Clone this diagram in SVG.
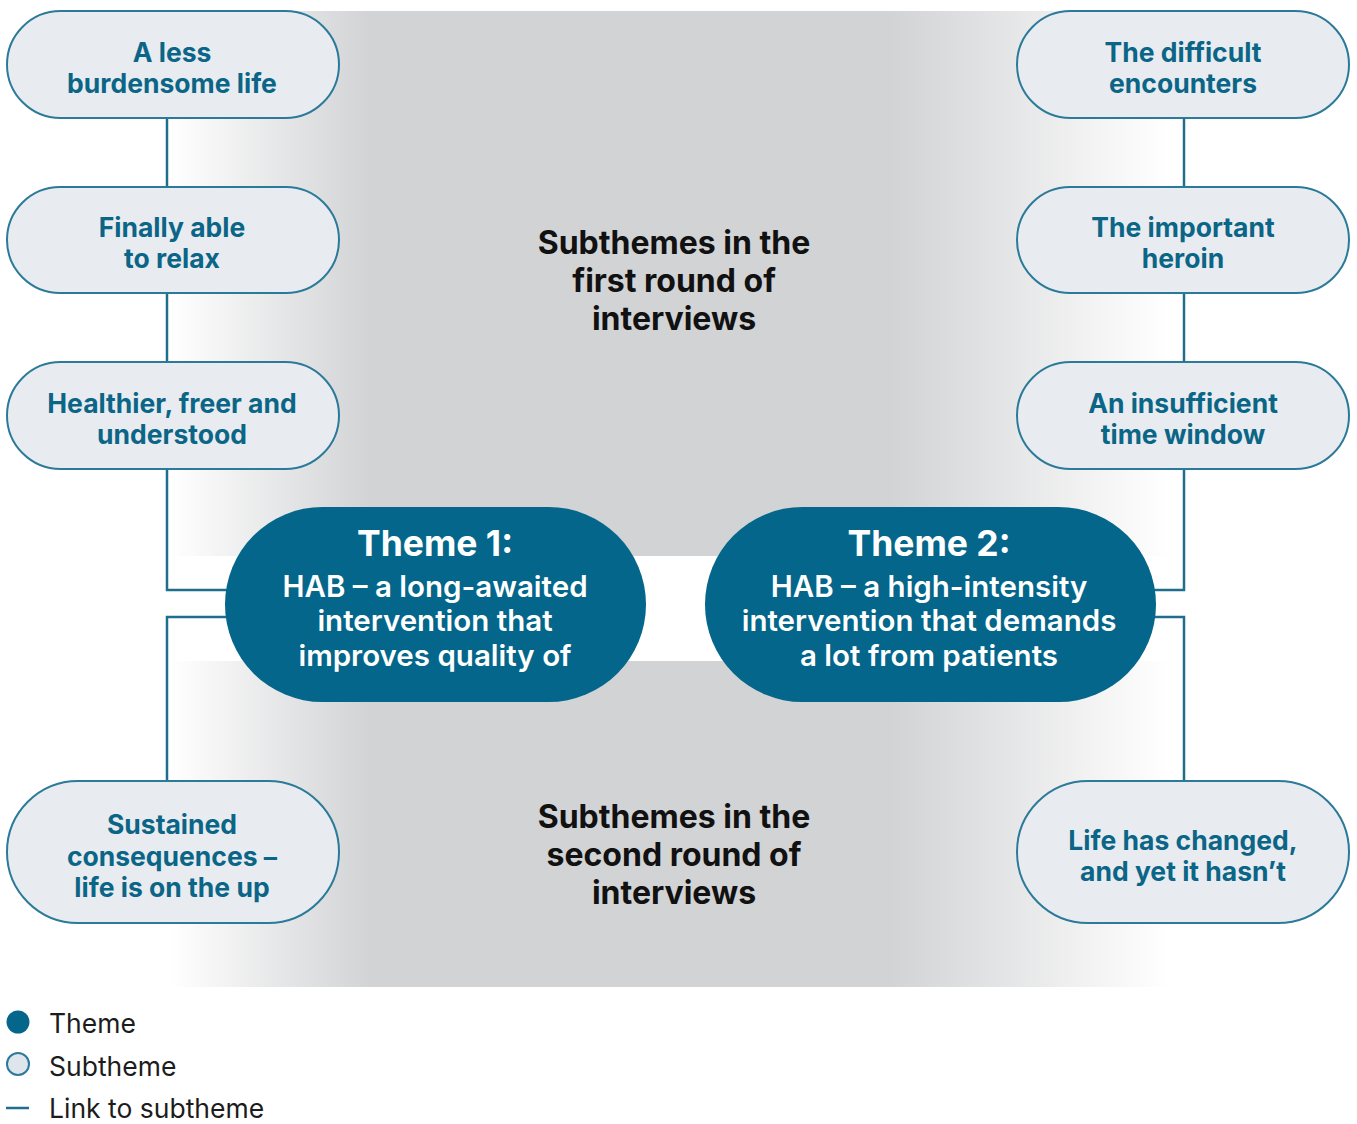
<svg xmlns="http://www.w3.org/2000/svg" width="1357" height="1124" viewBox="0 0 1357 1124">
  <style>
    .sub { fill: #e8ecf1; stroke: #2b7a99; stroke-width: 2; }
    .theme { fill: #03668a; }
    .subtxt { font-family: Inter, "Liberation Sans", sans-serif; font-weight: 700; font-size: 26.5px; fill: #0b6586; text-anchor: middle; }
    .thtitle { font-family: Inter, "Liberation Sans", sans-serif; font-weight: 700; font-size: 35.5px; fill: #ffffff; text-anchor: middle; }
    .thtxt { font-family: Inter, "Liberation Sans", sans-serif; font-weight: 600; font-size: 29.5px; fill: #ffffff; text-anchor: middle; }
    .round { font-family: Inter, "Liberation Sans", sans-serif; font-weight: 700; font-size: 32px; fill: #111111; text-anchor: middle; }
    .legend { font-family: Inter, "Liberation Sans", sans-serif; font-weight: 400; font-size: 26.5px; fill: #1c1c1c; }
    .link { fill: none; stroke: #1f6e8e; stroke-width: 2.5; }
  </style>
  <defs>
    <linearGradient id="band" x1="170" y1="0" x2="1170" y2="0" gradientUnits="userSpaceOnUse">
      <stop offset="0" stop-color="#ffffff"/>
      <stop offset="0.2" stop-color="#d2d3d5"/>
      <stop offset="0.72" stop-color="#d2d3d5"/>
      <stop offset="1" stop-color="#ffffff"/>
    </linearGradient>
  </defs>

  <rect width="1357" height="1124" fill="#ffffff"/>

  <!-- shaded bands: first round (top) and second round (bottom) -->
  <rect x="170" y="11" width="1000" height="545" fill="url(#band)"/>
  <rect x="170" y="661" width="1000" height="326" fill="url(#band)"/>

  <text class="round" x="674" y="254">Subthemes in the</text>
  <text class="round" x="674" y="292">first round of</text>
  <text class="round" x="674" y="330">interviews</text>
  <text class="round" x="674" y="828">Subthemes in the</text>
  <text class="round" x="674" y="866">second round of</text>
  <text class="round" x="674" y="904">interviews</text>

  <!-- links between themes and subthemes -->
  <g id="connectors">
    <line class="link" x1="167" y1="118" x2="167" y2="187"/>
    <line class="link" x1="167" y1="293" x2="167" y2="362"/>
    <polyline class="link" points="167,469 167,590 232,590"/>
    <polyline class="link" points="232,617 167,617 167,781"/>
    <line class="link" x1="1184" y1="118" x2="1184" y2="187"/>
    <line class="link" x1="1184" y1="293" x2="1184" y2="362"/>
    <polyline class="link" points="1184,469 1184,590 1150,590"/>
    <polyline class="link" points="1150,617 1184,617 1184,781"/>
  </g>

  <!-- left subthemes -->
  <g id="less-burdensome">
    <rect class="sub" x="7" y="11" width="332" height="107" rx="53.5"/>
    <text class="subtxt" x="172" y="62">A less</text>
    <text class="subtxt" x="172" y="93">burdensome life</text>
  </g>
  <g id="able-to-relax">
    <rect class="sub" x="7" y="187" width="332" height="106" rx="53"/>
    <text class="subtxt" x="172" y="237">Finally able</text>
    <text class="subtxt" x="172" y="268">to relax</text>
  </g>
  <g id="healthier">
    <rect class="sub" x="7" y="362" width="332" height="107" rx="53.5"/>
    <text class="subtxt" x="172" y="413">Healthier, freer and</text>
    <text class="subtxt" x="172" y="444">understood</text>
  </g>
  <g id="sustained">
    <rect class="sub" x="7" y="781" width="332" height="142" rx="71"/>
    <text class="subtxt" x="172" y="834">Sustained</text>
    <text class="subtxt" x="172" y="866">consequences –</text>
    <text class="subtxt" x="172" y="897">life is on the up</text>
  </g>

  <!-- right subthemes -->
  <g id="difficult-encounters">
    <rect class="sub" x="1017" y="11" width="332" height="107" rx="53.5"/>
    <text class="subtxt" x="1183" y="62">The difficult</text>
    <text class="subtxt" x="1183" y="93">encounters</text>
  </g>
  <g id="important-heroin">
    <rect class="sub" x="1017" y="187" width="332" height="106" rx="53"/>
    <text class="subtxt" x="1183" y="237">The important</text>
    <text class="subtxt" x="1183" y="268">heroin</text>
  </g>
  <g id="time-window">
    <rect class="sub" x="1017" y="362" width="332" height="107" rx="53.5"/>
    <text class="subtxt" x="1183" y="413">An insufficient</text>
    <text class="subtxt" x="1183" y="444">time window</text>
  </g>
  <g id="life-changed">
    <rect class="sub" x="1017" y="781" width="332" height="142" rx="71"/>
    <text class="subtxt" x="1183" y="850">Life has changed,</text>
    <text class="subtxt" x="1183" y="881">and yet it hasn’t</text>
  </g>

  <!-- themes -->
  <g id="theme-1">
    <rect class="theme" x="225" y="507" width="421" height="195" rx="97.5"/>
    <text class="thtitle" x="435" y="556">Theme 1:</text>
    <text class="thtxt" x="435" y="597">HAB – a long-awaited</text>
    <text class="thtxt" x="435" y="631">intervention that</text>
    <text class="thtxt" x="435" y="666">improves quality of</text>
  </g>
  <g id="theme-2">
    <rect class="theme" x="705" y="507" width="451" height="195" rx="97.5"/>
    <text class="thtitle" x="929" y="556">Theme 2:</text>
    <text class="thtxt" x="929" y="597">HAB – a high-intensity</text>
    <text class="thtxt" x="929" y="631">intervention that demands</text>
    <text class="thtxt" x="929" y="666">a lot from patients</text>
  </g>

  <!-- legend -->
  <g id="legend">
    <circle cx="18" cy="1022" r="11.5" fill="#03668a"/>
    <circle cx="18" cy="1064" r="11" fill="#dfe5ec" stroke="#2b7a99" stroke-width="2"/>
    <line x1="6" y1="1108" x2="29" y2="1108" stroke="#1f6e8e" stroke-width="2.5"/>
    <text class="legend" x="49" y="1033">Theme</text>
    <text class="legend" x="49" y="1076">Subtheme</text>
    <text class="legend" x="49" y="1118">Link to subtheme</text>
  </g>
</svg>
